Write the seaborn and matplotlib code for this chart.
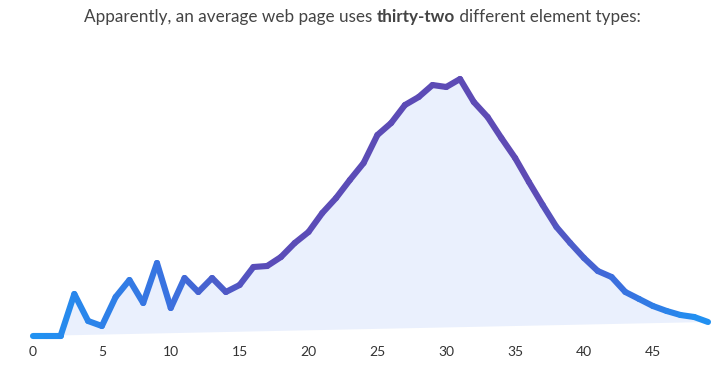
import numpy as np
import matplotlib
matplotlib.use("Agg")
import matplotlib.pyplot as plt
import seaborn as sns
from matplotlib.collections import LineCollection
from matplotlib.colors import LinearSegmentedColormap

# number of distinct element types per page (x) and relative share of pages (y)
element_types = list(range(50))
share = [0, 0, 0, 42, 15, 10, 39, 56, 33, 73,
         28, 58, 44, 58, 44, 51, 69, 70, 79, 93,
         104, 123, 138, 156, 173, 201, 213, 231, 239, 251,
         249, 257, 234, 219, 198, 178, 154, 131, 109, 93,
         78, 65, 59, 44, 37, 30, 25, 21, 19, 14]
tick_values = [0, 5, 10, 15, 20, 25, 30, 35, 40, 45]

title_parts = [("Apparently, an average web page uses ", "normal"),
               ("thirty-two", "bold"),
               (" different element types:", "normal")]

sns.set_theme(style="white")
plt.rcParams["font.family"] = ["Lato", "DejaVu Sans"]

fig = plt.figure(figsize=(7.14, 3.81), dpi=100)
ax = fig.add_axes([33 / 714, 45 / 381, 675 / 714, 257 / 381])

x = np.array(element_types, dtype=float)
y = np.array(share, dtype=float)

# light fill, closed straight from last point back to first
ax.fill(x, y, color="#eaf0fd", lw=0, zorder=1)

# gradient line: blue at the ends, purple in the middle
cmap = LinearSegmentedColormap.from_list(
    "bp", [(0, "#2092f2"), (0.2, "#3a72e0"), (0.34, "#5a4cb8"),
           (0.74, "#5e4bb4"), (0.86, "#3d6cdc"), (1, "#2092f2")])
pts = np.column_stack([x, y]).reshape(-1, 1, 2)
segs = np.concatenate([pts[:-1], pts[1:]], axis=1)
mid = (x[:-1] + x[1:]) / 2 / x.max()
lc = LineCollection(segs, colors=cmap(mid), linewidths=4.4,
                    capstyle="round", joinstyle="round", zorder=3)
lc.set_clip_on(False)
ax.add_collection(lc)

ax.set_xlim(0, 49)
ax.set_ylim(0, 257)
ax.set_xticks(tick_values)
ax.set_xticklabels([str(t) for t in tick_values], fontsize=10, color="#333333")
ax.set_yticks([])
ax.tick_params(axis="x", length=0, pad=7)
sns.despine(ax=ax, left=True, bottom=True)

# title with a bold word in the middle
fs = 12.3
renderer = fig.canvas.get_renderer()
widths = []
for txt, w in title_parts:
    t = fig.text(0, 0, txt, fontsize=fs, fontweight=w)
    widths.append(t.get_window_extent(renderer).width)
    t.remove()
total = sum(widths)
xpos = 362 - total / 2
for (txt, w), wd in zip(title_parts, widths):
    fig.text(xpos / 714, 1 - 22 / 381, txt, fontsize=fs, fontweight=w,
             color="#444444", va="baseline", ha="left")
    xpos += wd

fig.savefig("out.png", dpi=100)
